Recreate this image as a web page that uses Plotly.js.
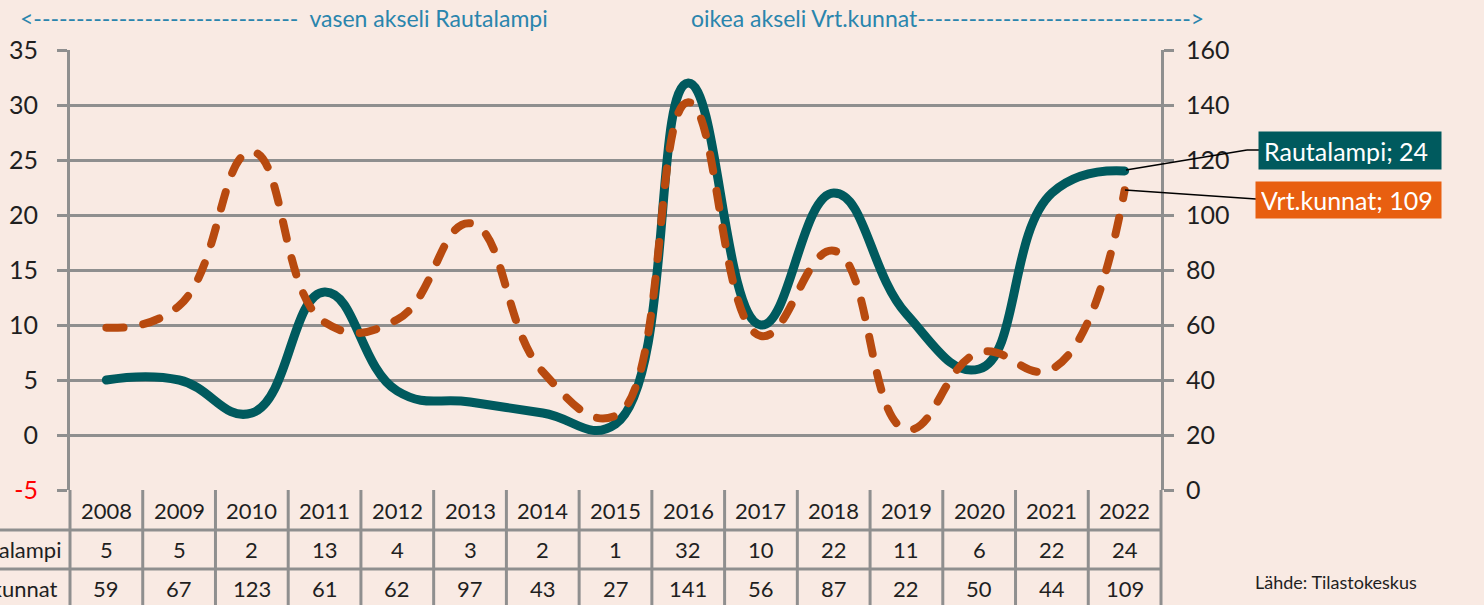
<!DOCTYPE html>
<html>
<head>
<meta charset="utf-8">
<script src="https://cdn.plot.ly/plotly-3.0.1.min.js"></script>
<style>
html,body{margin:0;padding:0;background:#f9eae3;}
#chart{width:1484px;height:605px;}
.scatterlayer .js-line{stroke-linecap:round;stroke-linejoin:round;}
</style>
</head>
<body>
<div id="chart"></div>
<script>
// ---- data ----
const years = ['2008','2009','2010','2011','2012','2013','2014','2015','2016','2017','2018','2019','2020','2021','2022'];
const rautalampi = [5,5,2,13,4,3,2,1,32,10,22,11,6,22,24];
const vrtKunnat = [59,67,123,61,62,97,43,27,141,56,87,22,50,44,109];
const leftTicks = [-5,0,5,10,15,20,25,30,35];
const rightTicks = [0,20,40,60,80,100,120,140,160];
const rowLabels = ['Rautalampi','Vrt.kunnat'];

// ---- layout helpers (pixel -> paper) ----
const L=70, R=1161, T=50, B=490;
const px = X => (X-L)/(R-L);
const py = Y => (B-Y)/(B-T);

const teal = '#005a5e';
const orange = '#b84a0f';
const grid = '#8f8f8f';
const font = 'Lato, "Open Sans", sans-serif';
const txt = '#1f1f1f';
const blue = '#2a85ad';

const traces = [
  {x: years, y: rautalampi, type:'scatter', mode:'lines', name:'Rautalampi',
   line:{color:teal, width:9, shape:'spline', smoothing:1.3}, yaxis:'y', hoverinfo:'skip'},
  {x: years, y: vrtKunnat, type:'scatter', mode:'lines', name:'Vrt.kunnat',
   line:{color:orange, width:8, shape:'spline', smoothing:1.3, dash:'17px,20px'}, yaxis:'y2', hoverinfo:'skip'}
];

const shapes = [];
// table vertical lines
for (let k=0;k<=years.length;k++){
  shapes.push({type:'line', xref:'paper', yref:'paper', x0:k/years.length, x1:k/years.length,
    y0:py(490), y1:py(606), line:{color:grid, width:3}});
}
// table horizontal lines
[530,569].forEach(Y=>{
  shapes.push({type:'line', xref:'paper', yref:'paper', x0:px(-5), x1:1, y0:py(Y), y1:py(Y),
    line:{color:grid, width:3}});
});
// leader lines
shapes.push({type:'line', xref:'paper', yref:'paper', x0:px(1126), y0:py(170), x1:px(1247), y1:py(150), line:{color:'#000', width:1.5}});
shapes.push({type:'line', xref:'paper', yref:'paper', x0:px(1247), y0:py(150), x1:px(1259), y1:py(150), line:{color:'#000', width:1.5}});
shapes.push({type:'line', xref:'paper', yref:'paper', x0:px(1125), y0:py(190), x1:px(1256), y1:py(199), line:{color:'#000', width:1.5}});

const annotations = [];
const cell = (x, xref, Y, text) => ({x:x, xref:xref, yref:'paper', y:py(Y), xanchor:'center', yanchor:'middle',
  text:text, showarrow:false, font:{family:font,size:22,color:txt}});
// table cells
years.forEach((yr,i)=>{
  annotations.push(cell(i,'x',510,yr));
  annotations.push(cell(i,'x',549,String(rautalampi[i])));
  annotations.push(cell(i,'x',588,String(vrtKunnat[i])));
});
annotations.push(cell(px(7),'paper',549,rowLabels[0]));
annotations.push(cell(px(7),'paper',588,rowLabels[1]));
// axis notes
annotations.push({x:px(18), xanchor:'left', yanchor:'middle', xref:'paper', yref:'paper', y:py(18),
  text:'<' + '-'.repeat(31) + '  vasen akseli Rautalampi', showarrow:false, font:{family:font,size:23,color:blue}});
annotations.push({x:px(689), xanchor:'left', yanchor:'middle', xref:'paper', yref:'paper', y:py(18),
  text:'oikea akseli Vrt.kunnat' + '-'.repeat(32) + '>', showarrow:false, font:{family:font,size:23,color:blue}});
// end labels
annotations.push({x:px(1258), xanchor:'left', y:py(151), yanchor:'middle', xref:'paper', yref:'paper',
  text:'Rautalampi; '+rautalampi[rautalampi.length-1], showarrow:false, align:'left', width:172, height:27, borderpad:5,
  bgcolor:teal, font:{family:font,size:25,color:'#ffffff'}});
annotations.push({x:px(1255), xanchor:'left', y:py(200), yanchor:'middle', xref:'paper', yref:'paper',
  text:'Vrt.kunnat; '+vrtKunnat[vrtKunnat.length-1], showarrow:false, align:'left', width:175, height:26, borderpad:5,
  bgcolor:'#e85f10', font:{family:font,size:25,color:'#ffffff'}});
// source
annotations.push({x:px(1253), xanchor:'left', yanchor:'middle', y:py(582), xref:'paper', yref:'paper',
  text:'Lähde: Tilastokeskus', showarrow:false, font:{family:font,size:18,color:txt}});

const leftText = leftTicks.map(v => v<0 ? '<span style="color:#ff0000">'+v+'</span>' : String(v));

const layout = {
  width:1484, height:605,
  margin:{l:L, r:1484-R, t:T, b:605-B, pad:0},
  paper_bgcolor:'#f9eae3', plot_bgcolor:'#f9eae3',
  showlegend:false,
  xaxis:{type:'category', range:[-0.5, years.length-0.5], showgrid:false, zeroline:false, showline:false,
    showticklabels:false, ticks:'', fixedrange:true},
  yaxis:{range:[-5,35], tickmode:'array', tickvals:leftTicks, ticktext:leftText, showgrid:true, gridcolor:grid, gridwidth:3,
    zeroline:false, showline:true, linecolor:grid, linewidth:3, ticks:'outside', ticklen:10, tickwidth:3, tickcolor:grid,
    ticklabelstandoff:14, tickfont:{family:font,size:25,color:txt}, fixedrange:true},
  yaxis2:{range:[0,160], tickmode:'array', tickvals:rightTicks, overlaying:'y', side:'right', showgrid:false, zeroline:false,
    showline:true, linecolor:grid, linewidth:3, ticks:'outside', ticklen:10, tickwidth:3, tickcolor:grid,
    ticklabelstandoff:7, tickfont:{family:font,size:25,color:txt}, fixedrange:true},
  shapes:shapes,
  annotations:annotations
};

Plotly.newPlot('chart', traces, layout, {displayModeBar:false, staticPlot:true});
</script>
</body>
</html>
